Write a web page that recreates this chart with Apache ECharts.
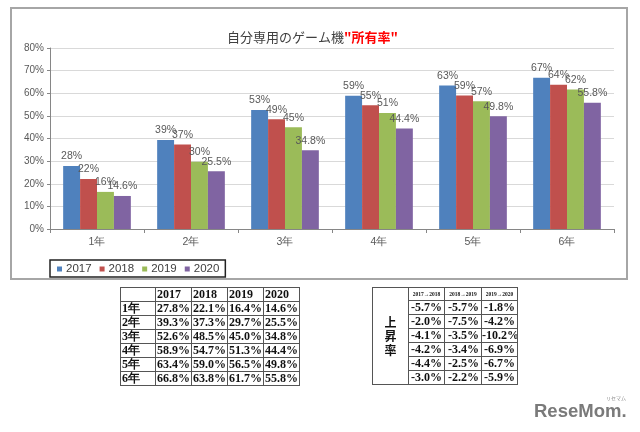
<!DOCTYPE html>
<html>
<head>
<meta charset="utf-8">
<script src="https://cdn.jsdelivr.net/npm/echarts@6/dist/echarts.min.js"></script>
<style>
  html, body { margin:0; padding:0; background:#fff; }
  #wrap { position:relative; width:640px; height:432px; overflow:hidden; background:#fff; }
  #chart { position:absolute; left:0; top:0; width:640px; height:432px; }
  table.t { position:absolute; border-collapse:collapse; table-layout:fixed;
            font-family:"Liberation Serif","DejaVu Serif",serif; font-weight:bold; font-size:12px; color:#111; }
  table.t td { border:1px solid #555; padding:0 0 0 1px; line-height:13px; height:13px; white-space:nowrap; overflow:hidden; }
  #t1 { width:180px; }
  #t2 { width:146px; }
  #t1 td { text-align:left; }
  #t2 td { text-align:right; padding-right:2px; padding-left:0; }
  #t2 td.hd { font-size:5.5px; line-height:12px; height:12px; text-align:center; padding:0; }
  #t2 td.side { text-align:center; padding:0; font-family:"Noto Sans CJK JP",sans-serif; font-size:12px; line-height:14px; }
</style>
</head>
<body>
<div id="wrap">
  <div id="chart"></div>
  <table class="t" id="t1"></table>
  <table class="t" id="t2"></table>
</div>
<script>
// ---- data ----
const categories = ['1年', '2年', '3年', '4年', '5年', '6年'];
const years = ['2017', '2018', '2019', '2020'];
const v2017 = [27.8, 39.3, 52.6, 58.9, 63.4, 66.8];
const v2018 = [22.1, 37.3, 48.5, 54.7, 59.0, 63.8];
const v2019 = [16.4, 29.7, 45.0, 51.3, 56.5, 61.7];
const v2020 = [14.6, 25.5, 34.8, 44.4, 49.8, 55.8];
const diff1718 = [-5.7, -2.0, -4.1, -4.2, -4.4, -3.0];
const diff1819 = [-5.7, -7.5, -3.5, -3.4, -2.5, -2.2];
const diff1920 = [-1.8, -4.2, -10.2, -6.9, -6.7, -5.9];
const diffHeaders = ['2017→2018', '2018→2019', '2019→2020'];
const sideLabel = '上昇率';
const yMin = 0, yMax = 80, yInterval = 10;
const titleMain = '自分専用のゲーム機';
const titleRed = '"所有率"';

const seriesValues = [v2017, v2018, v2019, v2020];
const colors = ['#4f81bd', '#c0504d', '#9bbb59', '#8064a2'];
const sans = '"Liberation Sans",Arial,sans-serif';

// ---- chart ----
const chart = echarts.init(document.getElementById('chart'), null, { renderer: 'canvas' });
const option = {
  animation: false,
  backgroundColor: '#fff',
  title: {
    text: '{a|' + titleMain + '}{b|' + titleRed + '}',
    left: 227, top: 31, padding: 0,
    textStyle: {
      fontWeight: 'normal',
      rich: {
        a: { fontSize: 13, color: '#404040', fontWeight: 'normal', fontFamily: '"Noto Sans CJK JP",sans-serif' },
        b: { fontSize: 13, color: '#ff0000', fontWeight: 'bold', fontFamily: '"Noto Sans CJK JP",sans-serif' }
      }
    }
  },
  grid: { left: 50, right: 26, top: 48, bottom: 203, containLabel: false },
  legend: {
    data: years,
    left: 50, top: 260,
    orient: 'horizontal',
    padding: [3, 6, 2, 7],
    itemWidth: 5, itemHeight: 5, itemGap: 8,
    icon: 'rect',
    borderColor: '#222', borderWidth: 1.5,
    textStyle: { fontSize: 11.5, color: '#404040', fontFamily: sans, padding: [0, 0, 0, -1] }
  },
  xAxis: {
    type: 'category',
    data: categories,
    axisLine: { show: true, lineStyle: { color: '#868686', width: 1 } },
    axisTick: { show: true, length: 4, lineStyle: { color: '#868686' } },
    axisLabel: { color: '#595959', fontSize: 10.5, margin: 8, fontFamily: sans }
  },
  yAxis: {
    type: 'value',
    min: yMin, max: yMax, interval: yInterval,
    axisLine: { show: true, lineStyle: { color: '#868686', width: 1 } },
    axisTick: { show: true, length: 3, lineStyle: { color: '#868686' } },
    axisLabel: { formatter: '{value}%', color: '#595959', fontSize: 10, margin: 6, fontFamily: sans },
    splitLine: { show: true, lineStyle: { color: '#d9d9d9', width: 1 } }
  },
  series: years.map((y, i) => ({
    name: y,
    type: 'bar',
    data: seriesValues[i],
    barGap: '0%',
    barCategoryGap: '28%',
    itemStyle: { color: colors[i] },
    label: {
      show: true, position: 'top', distance: 4,
      color: '#595959', fontSize: 10.5, fontFamily: sans,
      formatter: p => (i === 3 ? p.value.toFixed(1) : Math.round(p.value)) + '%'
    }
  })),
  graphic: [
    { type: 'rect', shape: { x: 11, y: 8, width: 616, height: 271 },
      style: { fill: 'none', stroke: '#a6a6a6', lineWidth: 2 }, silent: true },
    { type: 'text', x: 534, y: 402,
      style: { text: 'ReseMom.', fill: '#7a7a7a', font: 'bold 18.5px "Liberation Sans",sans-serif' } },
    { type: 'text', x: 606, y: 396,
      style: { text: 'リセマム', fill: '#888', font: '5px "Noto Sans CJK JP",sans-serif' } }
  ]
};
chart.setOption(option);

// ---- tables ----
function fmt(v) { return v.toFixed(1) + '%'; }
const t1 = document.getElementById('t1');
t1.style.left = '120px'; t1.style.top = '287px';
let h1 = '<colgroup><col style="width:35px"><col style="width:36px"><col style="width:36px"><col style="width:36px"><col style="width:36px"></colgroup>';
h1 += '<tr><td></td>' + years.map(y => '<td>' + y + '</td>').join('') + '</tr>';
categories.forEach((c, r) => {
  h1 += '<tr><td>' + c + '</td>' + seriesValues.map(s => '<td>' + fmt(s[r]) + '</td>').join('') + '</tr>';
});
t1.innerHTML = h1;

const t2 = document.getElementById('t2');
t2.style.left = '372px'; t2.style.top = '287px';
const diffs = [diff1718, diff1819, diff1920];
let h2 = '<colgroup><col style="width:36px"><col style="width:36px"><col style="width:37px"><col style="width:36px"></colgroup>';
h2 += '<tr><td class="side" rowspan="7">' + sideLabel.split('').join('<br>') + '</td>' +
      diffHeaders.map(d => '<td class="hd">' + d + '</td>').join('') + '</tr>';
categories.forEach((c, r) => {
  h2 += '<tr>' + diffs.map(d => '<td>' + fmt(d[r]) + '</td>').join('') + '</tr>';
});
t2.innerHTML = h2;
</script>
</body>
</html>
